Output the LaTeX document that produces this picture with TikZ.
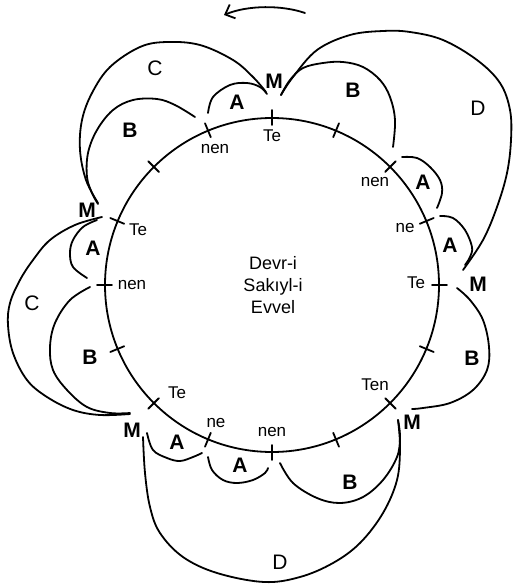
\documentclass[tikz,border=0pt]{standalone}
\usepackage{fontspec}
\setmainfont{Liberation Sans}
\usetikzlibrary{arrows.meta,calc}
\tikzset{
  curve/.style={line width=1.8pt, line cap=round, line join=round},
  loop/.style={curve, smooth, tension=0.6},
  syl/.style={font=\fontsize{17}{20}\selectfont, inner sep=0pt},
  part/.style={font=\bfseries\fontsize{21}{24}\selectfont, inner sep=0pt},
  partthin/.style={font=\fontsize{21}{24}\selectfont, inner sep=0pt},
}
\begin{document}
\begin{tikzpicture}[x=1pt, y=-1pt]
\useasboundingbox[fill=white] (0,0) rectangle (513,586);

% the cycle and its sixteen beats
\coordinate (O) at (272,285);
\draw[curve] (O) circle[radius=167];
\foreach \a in {0,22.5,...,337.5}
  \draw[curve] ($(O)+(\a:160)$) -- ($(O)+(\a:175)$);

% title in the middle
\node[align=center, font=\fontsize{18}{22}\selectfont, inner sep=0pt] (title) at (273,285)
  {Devr-i\\Sakıyl-i\\Evvel};

% syllables on the beats
\node[syl] (te1)  at (272,136) {Te};
\node[syl] (nen1) at (215,149) {nen};
\node[syl] (te2)  at (138,230) {Te};
\node[syl] (nen2) at (132,285) {nen};
\node[syl] (te3)  at (177,393) {Te};
\node[syl] (ne1)  at (216,423) {ne};
\node[syl] (nen3) at (272,432) {nen};
\node[syl] (ten)  at (375,385) {Ten};
\node[syl] (te4)  at (416,283) {Te};
\node[syl] (ne2)  at (405,228) {ne};
\node[syl] (nen4) at (375,182) {nen};

% strong beats
\node[part] (mtop) at (274,81)  {M};
\node[part] (mrt)  at (478,284) {M};
\node[part] (mlr)  at (412,422) {M};
\node[part] (mll)  at (132,430) {M};
\node[part] (mul)  at (87,210)  {M};

% segment letters
\node[part] (a1) at (237,102) {A};
\node[part] (a2) at (423,182) {A};
\node[part] (a3) at (450,245) {A};
\node[part] (a4) at (240,465) {A};
\node[part] (a5) at (177,442) {A};
\node[part] (a6) at (93,248)  {A};
\node[part] (b1) at (130,130) {B};
\node[part] (b2) at (353,90)  {B};
\node[part] (b3) at (472,358) {B};
\node[part] (b4) at (350,482) {B};
\node[part] (b5) at (90,357)  {B};
\node[partthin] (c1) at (155,68)  {C};
\node[partthin] (c2) at (32,303)  {C};
\node[partthin] (d1) at (478,108) {D};
\node[partthin] (d2) at (280,562) {D};

% A loops
\draw[loop] plot coordinates {(208,113) (213,97) (230,85) (247,83) (260,87) (267,94)};
\draw[loop] plot coordinates {(402,157) (417,158) (430,167) (440,180) (442,193) (437,208)};
\draw[loop] plot coordinates {(440,216) (453,218) (465,230) (472,247) (470,257) (465,265)};
\draw[loop] plot coordinates {(208,457) (212,470) (223,480) (237,483) (253,480) (265,473) (268,468)};
\draw[loop] plot coordinates {(147,433) (153,450) (167,458) (180,461) (193,457) (202,453)};
\draw[loop] plot coordinates {(97,220) (83,227) (73,240) (70,253) (73,267) (87,278)};

% B loops
\draw[loop] plot coordinates {(195,117) (175,105) (157,99) (133,100) (113,110) (97,130) (88,153) (87,177) (92,193) (98,204)};
\draw[loop] plot coordinates {(281,95) (290,80) (303,68) (323,63) (343,62) (363,67) (380,80) (390,97) (395,120) (393,147)};
\draw[loop] plot coordinates {(457,288) (470,300) (483,320) (489,347) (487,370) (473,390) (450,403) (423,408) (412,409)};
\draw[loop] plot coordinates {(280,463) (293,483) (317,498) (340,503) (363,497) (383,480) (397,457) (400,437) (398,420)};
\draw[loop] plot coordinates {(90,287) (70,300) (55,323) (50,347) (53,370) (67,390) (87,407) (110,413) (130,413)};

% C loops
\draw[loop] plot coordinates {(98,203) (86,180) (80,150) (82,120) (92,93) (110,67) (140,47) (167,42) (200,45) (233,60) (253,77) (266,92)};
\draw[loop] plot coordinates {(102,217) (75,225) (50,240) (33,260) (20,280) (10,303) (8,325) (13,353) (27,380) (47,397) (73,410) (100,415) (130,414)};

% D loops
\draw[loop] plot coordinates {(281,95) (293,77) (317,50) (350,35) (383,31) (410,32) (443,40) (477,60) (500,83) (510,110) (511,140) (507,173) (497,207) (483,240) (463,270)};
\draw[loop] plot coordinates {(398,420) (400,447) (397,480) (383,513) (360,543) (333,563) (300,577) (264,582) (217,573) (183,557) (160,533) (150,507) (145,473) (143,437)};

% direction of travel
\coordinate (arrS) at (305,13);
\coordinate (arrE) at (224,15);
\draw[curve, -{Straight Barb[length=8pt, width=15pt, line width=1.8pt]}]
  (arrS) .. controls (282,5) and (248,5) .. (arrE);
\end{tikzpicture}
\end{document}
